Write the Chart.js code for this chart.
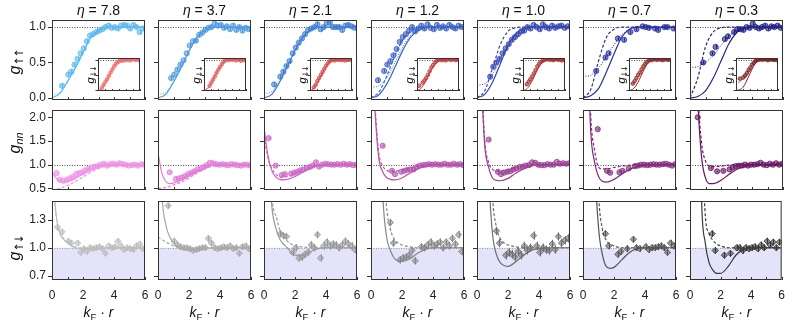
<!DOCTYPE html>
<html>
<head>
<meta charset="utf-8">
<script src="https://cdn.jsdelivr.net/npm/chart.js@4.4.1/dist/chart.umd.min.js"></script>
<style>
  html, body { margin: 0; padding: 0; background: #fff; }
  #fig { position: relative; width: 793px; height: 322px; overflow: hidden; font-family: 'Liberation Sans', Arial, sans-serif; color: #111; }
  #fig canvas { position: absolute; left: 0; top: 0; }
  .lbl { position: absolute; white-space: nowrap; line-height: 1; transform: translate(-50%, -50%); }
  .rot { transform: translate(-50%, -50%) rotate(-90deg); }
  .lbl sub { font-size: 68%; vertical-align: baseline; position: relative; top: 0.3em; }
  .lbl sub.arr { font-family: 'DejaVu Sans', sans-serif; font-size: 72%; letter-spacing: -0.15em; }
</style>
</head>
<body>
<div id="fig"></div>
<script>
// ---- labels / ticks ----
const etaValues = ['7.8', '3.7', '2.1', '1.2', '1.0', '0.7', '0.3'];
const xTickLabels = [0, 2, 4, 6];
const xTickMarks = [0, 1, 2, 3, 4, 5, 6];
const upTicks = [0, 0.5, 1.0];
const nnTicks = [0.5, 1.0, 1.5, 2.0];
const udTicks = [0.7, 1.0, 1.3];
const insetTicks = [0, 0.5, 1.0];

// ---- colours per column ----
const upColors = ['#5cb9ee', '#4d9be0', '#3f7dd3', '#3a62c6', '#3346b4', '#2a30a3', '#22228a'];
const downColors = ['#f46a6a', '#e35a5a', '#d24a4a', '#c23c3c', '#ae3232', '#962a2a', '#7e2020'];
const nnColors = ['#f08ee8', '#e27ad8', '#cd62c4', '#b64fae', '#9c3c96', '#82297c', '#681565'];
const udColors = ['#bdbdbd', '#a8a8a8', '#999999', '#878787', '#6f6f6f', '#555555', '#3a3a3a'];

// ---- g up-up (top row) ----
const upX = [0.45, 0.65, 0.85, 1.05, 1.25, 1.45, 1.65, 1.85, 2.05, 2.25, 2.45, 2.65, 2.85, 3.05, 3.25, 3.45, 3.65, 3.85, 4.05, 4.25, 4.45, 4.65, 4.85, 5.05, 5.25, 5.45, 5.65, 5.85];
const upY = [
  [null, 0.17, null, 0.33, 0.37, 0.47, 0.55, 0.63, 0.70, 0.80, 0.88, 0.90, 0.93, 0.95, 0.97, 1.00, 1.02, 0.99, 1.00, 0.98, 1.02, 1.03, 1.02, 0.98, 1.03, 1.00, 0.93, 0.98],
  [null, null, 0.28, 0.33, 0.40, 0.47, 0.53, 0.63, 0.74, 0.80, 0.81, 0.89, 0.92, 0.96, 0.99, 1.00, 1.05, 1.02, 1.03, 0.99, 1.01, 0.97, 1.02, 0.96, 1.00, 0.95, 0.99, 0.97],
  [null, 0.19, null, 0.30, 0.37, 0.45, 0.52, 0.63, 0.71, 0.78, 0.84, 0.90, 0.96, 0.98, 1.00, 1.04, 0.97, 1.00, 1.06, 1.06, 1.00, 1.00, 1.00, 0.96, 1.02, 1.03, 1.01, 0.99],
  [0.25, null, 0.38, 0.47, 0.52, 0.60, 0.69, 0.79, 0.86, 0.90, 0.95, 1.00, 0.94, 0.98, 1.02, 0.98, 1.04, 0.99, 0.97, 1.03, 0.99, 1.01, 0.98, 1.03, 1.00, 0.98, 1.02, 1.00],
  [null, null, 0.30, 0.44, 0.50, 0.55, 0.63, 0.70, 0.76, 0.82, 0.86, 0.90, 0.94, 0.95, 1.00, 0.98, 1.03, 1.00, 0.97, 1.04, 1.00, 0.98, 1.02, 0.99, 1.01, 1.02, 0.99, 1.01],
  [null, null, 0.38, null, null, 0.57, 0.63, null, null, 0.84, null, 0.82, null, 0.93, null, 0.97, null, 1.01, 1.00, 0.99, null, 0.98, 0.96, null, 1.00, 1.00, null, 0.98],
  [null, null, 0.50, null, null, 0.63, 0.72, null, null, 0.83, 0.87, null, 0.93, 0.97, 0.97, 0.96, 1.00, 0.99, 1.05, 1.00, 0.98, 1.00, 1.02, 0.98, 1.01, 1.00, 1.02, 0.99]
];
const upErr = [0.03, 0.03, 0.03, 0.025, 0.025, 0.025, 0.025];
const upCurveX = [0, 0.5, 1, 1.5, 2, 2.5, 3, 3.5, 4, 6];
const upSolid = [
  [0, 0.06, 0.23, 0.42, 0.64, 0.85, 0.96, 1, 1, 1],
  [0, 0.05, 0.22, 0.43, 0.66, 0.85, 0.96, 1, 1, 1],
  [0, 0.05, 0.22, 0.44, 0.67, 0.86, 0.96, 1, 1, 1],
  [0, 0.04, 0.19, 0.41, 0.65, 0.84, 0.95, 0.99, 1, 1],
  [0, 0.05, 0.22, 0.48, 0.74, 0.90, 0.98, 1, 1, 1],
  [0, 0.03, 0.13, 0.36, 0.62, 0.86, 0.97, 1, 1, 1],
  [0, 0.02, 0.10, 0.28, 0.52, 0.76, 0.92, 0.99, 1, 1]
];
const upDashed = [
  null, null, null,
  [0, 0.08, 0.30, 0.57, 0.80, 0.93, 0.99, 1, 1, 1],
  [0, 0.10, 0.42, 0.75, 0.94, 0.99, 1, 1, 1, 1],
  [0, 0.12, 0.52, 0.85, 0.97, 1, 1, 1, 1, 1],
  [0, 0.28, 0.72, 0.93, 0.99, 1, 1, 1, 1, 1]
];
const upDotted = [
  [0.04, 0.08, 0.24, 0.43, 0.64, 0.85, 0.96, 1, 1, 1],
  [0.05, 0.08, 0.23, 0.44, 0.66, 0.85, 0.96, 1, 1, 1],
  [0.06, 0.09, 0.24, 0.45, 0.67, 0.86, 0.96, 1, 1, 1],
  [0.15, 0.17, 0.28, 0.48, 0.70, 0.87, 0.97, 1, 1, 1],
  [0.18, 0.20, 0.33, 0.55, 0.76, 0.90, 0.97, 1, 1, 1],
  [0.30, 0.32, 0.42, 0.58, 0.75, 0.89, 0.97, 1, 1, 1],
  [0.43, 0.44, 0.50, 0.60, 0.74, 0.87, 0.95, 0.99, 1, 1]
];

// ---- g down-down (insets) ----
const insetX = [0.3, 0.55, 0.8, 1.05, 1.3, 1.55, 1.8, 2.05, 2.3, 2.55, 2.8, 3.05, 3.3, 3.55, 3.8, 4.05, 4.3, 4.55, 4.8, 5.05, 5.3, 5.55, 5.8];
const downY = [
  [null, 0.08, 0.18, 0.28, 0.36, 0.47, 0.58, 0.68, 0.78, 0.86, 0.91, 0.95, 0.98, 0.96, 1.00, 0.98, 1.01, 0.97, 1.00, 1.02, 0.99, 1.01, 0.98],
  [null, null, 0.15, 0.25, 0.35, 0.45, 0.57, 0.67, 0.76, 0.85, 0.93, 0.97, 1.02, 0.98, 1.04, 0.99, 1.03, 0.97, 1.01, 1.00, 0.96, 1.00, 0.98],
  [null, 0.10, 0.18, 0.30, 0.40, 0.50, 0.60, 0.70, 0.80, 0.88, 0.94, 0.98, 1.00, 0.97, 1.02, 0.99, 1.00, 0.98, 1.01, 0.97, 1.00, 0.99, 1.00],
  [0.15, null, 0.25, 0.32, 0.40, 0.50, 0.62, 0.74, 0.82, 0.90, 0.95, 0.99, 1.00, 0.98, 1.01, 0.97, 1.00, 1.02, 0.99, 1.00, 1.01, 0.98, 1.00],
  [null, 0.20, 0.28, 0.36, 0.45, 0.55, 0.66, 0.78, 0.86, 0.92, 0.96, 0.99, 1.00, 1.02, 0.99, 1.01, 0.98, 1.00, 1.02, 0.99, 1.00, 0.97, 0.99],
  [null, 0.22, 0.30, 0.40, 0.50, 0.58, 0.68, 0.78, 0.86, 0.92, 0.96, 1.00, 0.98, 1.02, 1.00, 0.99, 1.01, 1.00, 0.98, 1.00, 1.01, 0.99, 1.00],
  [null, 0.38, null, 0.42, 0.48, 0.56, 0.66, 0.74, 0.84, 0.90, 0.96, 0.98, 1.00, 1.01, 0.99, 1.02, 1.00, 0.98, 1.00, 1.01, 0.99, 1.00, 0.98]
];
const insetCurveX = [0, 0.5, 1, 1.5, 2, 2.5, 3, 3.5, 4, 6];
const downSolid = [
  [0, 0.06, 0.24, 0.45, 0.66, 0.84, 0.95, 1, 1, 1],
  [0, 0.05, 0.22, 0.44, 0.66, 0.84, 0.95, 1, 1, 1],
  [0, 0.05, 0.22, 0.44, 0.66, 0.85, 0.96, 1, 1, 1],
  [0, 0.05, 0.20, 0.42, 0.65, 0.84, 0.95, 1, 1, 1],
  [0, 0.04, 0.18, 0.40, 0.64, 0.84, 0.95, 1, 1, 1],
  [0, 0.03, 0.15, 0.36, 0.60, 0.82, 0.95, 1, 1, 1],
  [0, 0.02, 0.10, 0.30, 0.55, 0.78, 0.93, 0.99, 1, 1]
];
const downDotted = [
  [0.04, 0.08, 0.25, 0.46, 0.66, 0.84, 0.95, 1, 1, 1],
  [0.05, 0.08, 0.24, 0.45, 0.66, 0.84, 0.95, 1, 1, 1],
  [0.05, 0.08, 0.24, 0.45, 0.66, 0.85, 0.96, 1, 1, 1],
  [0.12, 0.14, 0.26, 0.46, 0.67, 0.85, 0.96, 1, 1, 1],
  [0.15, 0.17, 0.29, 0.48, 0.68, 0.86, 0.96, 1, 1, 1],
  [0.20, 0.22, 0.32, 0.50, 0.69, 0.86, 0.96, 1, 1, 1],
  [0.25, 0.27, 0.36, 0.52, 0.70, 0.86, 0.96, 1, 1, 1]
];

// ---- g_nn (middle row) ----
const nnX = [0.3, 0.5, 0.75, 0.95, 1.15, 1.35, 1.55, 1.75, 1.95, 2.15, 2.35, 2.55, 2.75, 2.95, 3.15, 3.35, 3.55, 3.75, 3.95, 4.15, 4.35, 4.55, 4.75, 4.95, 5.15, 5.35, 5.55, 5.75, 5.95];
const nnY = [
  [0.82, 0.68, 0.66, 0.68, 0.71, 0.74, 0.80, 0.82, 0.84, 0.88, 0.91, 0.94, 0.96, 0.97, 1.00, 1.02, 0.98, 1.01, 1.02, 1.00, 1.03, 1.01, 1.00, 0.98, 0.99, 1.00, 0.98, 1.01, 1.00],
  [null, null, 0.84, null, 0.70, 0.71, 0.73, 0.76, 0.80, 0.83, 0.86, 0.90, 0.92, 0.95, 0.99, 1.04, 1.03, 1.01, 1.00, 1.01, 1.00, 0.99, 1.01, 1.00, 0.99, 0.98, 1.00, 1.00, 0.98],
  [1.56, null, 0.98, null, 0.78, 0.80, null, 0.81, 0.83, 0.85, 0.88, 0.90, 0.93, 0.95, 0.98, 1.05, 0.96, 1.00, 1.02, 1.01, 1.00, 1.00, 1.01, 1.00, 1.02, 1.00, 1.01, 0.99, 1.00],
  [null, null, 1.40, null, null, 0.87, 0.80, null, 0.85, 0.87, 0.89, 0.90, 0.90, 0.95, 0.98, 0.99, 1.00, 1.01, 1.00, 1.01, 1.00, 1.00, 1.02, 1.00, 1.00, 1.02, 1.00, 1.01, 0.99],
  [null, null, 1.53, null, null, 0.85, 0.80, 0.83, 0.85, 0.86, 0.90, 0.92, 0.95, 0.96, 0.98, 0.99, 1.05, 1.04, 1.00, 0.99, 0.99, 1.01, 1.00, 1.00, 1.06, 1.02, 1.03, 1.02, 1.03],
  [null, null, null, 1.75, null, null, 0.87, 0.83, null, null, 0.84, 0.87, null, 0.92, null, 0.97, 0.98, 1.00, 1.00, 0.99, 1.00, 1.01, 1.00, 1.00, 1.01, 1.02, 1.00, 0.98, 1.01],
  [null, 2.00, null, null, null, 0.93, null, 0.86, null, 0.87, null, 0.90, 0.94, 0.97, 0.98, 0.98, 1.00, 0.98, 1.00, 1.00, 1.01, 1.04, 1.00, 0.99, 1.02, 1.00, 1.03, 1.00, 1.02]
];
const nnErr = [0.02, 0.02, 0.02, 0.015, 0.015, 0.015, 0.015];
const nnCurveX = [0, 0.25, 0.5, 0.75, 1, 1.25, 1.5, 2, 2.5, 3, 3.5, 4, 5, 6];
const nnSolid = [
  [0.85, 0.72, 0.65, 0.63, 0.64, 0.67, 0.71, 0.80, 0.88, 0.95, 0.99, 1, 1, 1],
  [1.25, 0.82, 0.65, 0.60, 0.61, 0.64, 0.68, 0.77, 0.86, 0.94, 0.99, 1, 1, 1],
  [1.80, 1.20, 0.88, 0.74, 0.69, 0.68, 0.69, 0.75, 0.84, 0.93, 0.98, 1, 1, 1],
  [4.0, 2.2, 1.15, 0.85, 0.73, 0.69, 0.68, 0.72, 0.82, 0.91, 0.97, 1, 1, 1],
  [5.0, 3.0, 1.40, 0.95, 0.72, 0.67, 0.66, 0.71, 0.82, 0.91, 0.97, 0.99, 1, 1],
  [6.0, 4.0, 1.70, 1.05, 0.75, 0.65, 0.63, 0.69, 0.80, 0.90, 0.96, 0.99, 1, 1],
  [7.0, 5.0, 2.40, 1.15, 0.72, 0.60, 0.60, 0.67, 0.79, 0.90, 0.96, 0.99, 1, 1]
];
const nnDashed = [
  [0.47, 0.48, 0.50, 0.53, 0.56, 0.60, 0.64, 0.74, 0.84, 0.92, 0.97, 0.99, 1, 1],
  [0.50, 0.50, 0.52, 0.54, 0.57, 0.60, 0.63, 0.72, 0.82, 0.91, 0.97, 0.99, 1, 1],
  [1.60, 1.15, 0.92, 0.80, 0.75, 0.74, 0.75, 0.80, 0.87, 0.94, 0.98, 1, 1, 1],
  [4.0, 2.3, 1.25, 0.98, 0.88, 0.86, 0.86, 0.89, 0.93, 0.97, 0.99, 1, 1, 1],
  [5.0, 3.2, 1.50, 1.05, 0.90, 0.87, 0.87, 0.90, 0.94, 0.97, 0.99, 1, 1, 1],
  [6.0, 4.2, 2.00, 1.30, 0.95, 0.91, 0.91, 0.94, 0.97, 0.99, 1, 1, 1, 1],
  [7.0, 5.2, 2.60, 1.45, 1.08, 0.97, 0.96, 0.97, 0.99, 1, 1, 1, 1, 1]
];

// ---- g up-down (bottom row) ----
const udX = [0.35, 0.65, 0.85, 1.05, 1.25, 1.45, 1.65, 1.85, 2.05, 2.25, 2.45, 2.65, 2.85, 3.05, 3.25, 3.45, 3.65, 3.85, 4.05, 4.25, 4.45, 4.65, 4.85, 5.05, 5.25, 5.45, 5.65, 5.85];
const udY = [
  [1.22, 1.17, null, 1.07, 1.05, null, 1.05, 0.95, 0.99, 0.96, 1.00, 0.99, 1.00, 1.01, 0.99, 0.94, 1.02, 1.00, 1.01, 1.07, 1.02, 0.98, 1.00, 0.99, 0.98, 1.02, 1.04, 0.99],
  [null, 1.45, null, 1.07, 1.03, 1.01, 1.00, 1.00, 0.99, 0.97, 0.98, 0.99, 1.00, 1.00, 1.10, 1.05, 1.00, 0.99, 1.00, 1.01, 1.00, 1.02, 0.99, 1.00, 0.94, 1.01, 1.02, 0.99],
  [null, null, null, 1.15, 1.13, 1.12, null, 0.95, 1.00, 0.89, 0.90, 0.93, 0.95, 1.03, 1.00, 1.14, 0.89, 1.02, 1.06, 1.02, 1.04, 1.03, 1.00, 1.03, 1.07, 1.04, 1.02, 0.98],
  [null, null, null, null, 1.27, 1.05, null, 0.87, 0.89, 0.90, 0.92, 0.97, 0.86, null, 1.01, 1.00, 1.03, 1.06, 1.02, 1.04, 1.06, 1.00, 1.06, 1.02, 1.10, 1.04, 1.14, 0.96],
  [null, null, null, null, 1.18, 1.05, null, 0.92, 0.95, 0.93, 0.90, 0.96, 0.92, 1.02, 0.97, 1.00, 1.13, 1.02, 0.95, 1.00, 0.98, 0.97, 1.04, 0.98, 1.12, 1.05, 1.08, 1.10],
  [null, null, null, null, null, 1.15, 1.02, null, null, 0.93, 0.96, null, 0.99, null, 1.09, 1.00, 0.99, null, 1.01, 0.98, 1.00, 1.00, 1.01, 1.02, 1.00, 0.95, 1.05, 1.02],
  [null, null, null, null, null, 1.15, 0.97, null, null, 0.92, null, 0.94, null, 1.00, 1.00, 0.97, 1.00, 0.99, 1.00, 1.01, 0.99, 1.03, 1.00, 1.07, 1.03, 1.06, 1.00, 1.06]
];
const udErr = [0.03, 0.03, 0.04, 0.04, 0.045, 0.035, 0.035];
const udCurveX = [0, 0.25, 0.5, 0.75, 1, 1.25, 1.5, 1.75, 2, 2.5, 3, 3.5, 4, 5, 6];
const udSolid = [
  [2.0, 1.38, 1.16, 1.09, 1.05, 1.02, 1.00, 0.99, 0.985, 0.985, 0.99, 1, 1, 1, 1],
  [3.0, 1.60, 1.25, 1.12, 1.05, 1.01, 0.99, 0.98, 0.975, 0.98, 0.99, 1, 1, 1, 1],
  [6.0, 2.20, 1.45, 1.22, 1.10, 1.04, 1.00, 0.95, 0.92, 0.92, 0.96, 0.99, 1, 1, 1],
  [8, 5, 3, 1.60, 1.12, 0.97, 0.89, 0.86, 0.855, 0.88, 0.94, 0.98, 1, 1, 1],
  [8, 5, 3, 1.80, 1.15, 0.93, 0.84, 0.81, 0.80, 0.85, 0.92, 0.97, 0.99, 1, 1],
  [8, 6, 4, 2.00, 1.22, 0.93, 0.80, 0.78, 0.79, 0.87, 0.95, 0.99, 1, 1, 1],
  [8, 6, 4, 1.55, 1.05, 0.84, 0.76, 0.725, 0.725, 0.80, 0.92, 0.98, 1, 1, 1]
];
const udDashed = [
  [1.8, 1.36, 1.17, 1.10, 1.06, 1.03, 1.01, 1.00, 1, 1, 1, 1, 1, 1, 1],
  [1.11, 1.09, 1.06, 1.04, 1.02, 1.01, 1.00, 1.00, 1, 1, 1, 1, 1, 1, 1],
  [8, 4, 1.60, 1.35, 1.20, 1.12, 1.07, 1.04, 1.02, 1.01, 1, 1, 1, 1, 1],
  [8, 6, 4, 2.20, 1.45, 1.20, 1.09, 1.05, 1.03, 1.01, 1, 1, 1, 1, 1],
  [8, 6, 5, 2.60, 1.55, 1.22, 1.10, 1.05, 1.03, 1.01, 1, 1, 1, 1, 1],
  [8, 7, 5, 3.00, 1.60, 1.20, 1.08, 1.04, 1.02, 1.00, 1, 1, 1, 1, 1],
  [8, 7, 5, 2.50, 1.35, 1.15, 1.08, 1.04, 1.02, 1.00, 1, 1, 1, 1, 1]
];

// ---- layout ----
const W = 793, H = 322;
const FONT = "'Liberation Sans', Arial, sans-serif";
const colLeft = [52, 158, 264, 371, 477, 583, 690];
const panelW = 93;
const yAxisW = 40, xAxisH = 24;
const shadeColor = '#e3e3fa';
const fig = document.getElementById('fig');

function rgba(hex, a) {
  const n = parseInt(hex.slice(1), 16);
  return `rgba(${(n >> 16) & 255}, ${(n >> 8) & 255}, ${n & 255}, ${a})`;
}

function pts(xs, ys) {
  return xs.map((x, i) => ({ x: x, y: ys[i] })).filter(p => p.y !== null);
}

function markers(xs, ys, color, style, r) {
  return {
    type: 'scatter', data: pts(xs, ys), pointStyle: style, pointRadius: r,
    backgroundColor: rgba(color, 0.6), borderColor: color, borderWidth: 0.8, order: 0
  };
}

function curve(xs, ys, color, dash, width) {
  return {
    type: 'line', data: pts(xs, ys), borderColor: color, borderWidth: width,
    borderDash: dash, pointRadius: 0, fill: false, cubicInterpolationMode: 'monotone', order: 1
  };
}

// frame, ticks, reference line, shading and error bars
const decor = {
  id: 'decor',
  beforeDatasetsDraw(chart, args, o) {
    const { ctx, chartArea: a, scales: { x, y } } = chart;
    ctx.save();
    ctx.beginPath();
    ctx.rect(a.left, a.top, a.right - a.left, a.bottom - a.top);
    ctx.clip();
    if (o.white) {
      ctx.fillStyle = '#fff';
      ctx.fillRect(a.left, a.top, a.right - a.left, a.bottom - a.top);
    }
    const y1 = y.getPixelForValue(1);
    if (o.shade) {
      ctx.fillStyle = shadeColor;
      ctx.fillRect(a.left, y1, a.right - a.left, a.bottom - y1);
    }
    const yr = Math.round(y1) + 0.5;
    ctx.strokeStyle = o.shade ? '#8a8a8a' : '#222';
    ctx.lineWidth = 0.8;
    ctx.setLineDash([1, 1.5]);
    ctx.beginPath();
    ctx.moveTo(a.left, yr);
    ctx.lineTo(a.right, yr);
    ctx.stroke();
    ctx.setLineDash([]);
    if (o.err) {
      const ds = chart.data.datasets[0];
      ctx.strokeStyle = ds.borderColor;
      ctx.lineWidth = 1;
      ds.data.forEach(p => {
        const px = Math.round(x.getPixelForValue(p.x)) + 0.5;
        ctx.beginPath();
        ctx.moveTo(px, y.getPixelForValue(p.y - o.err));
        ctx.lineTo(px, y.getPixelForValue(p.y + o.err));
        ctx.stroke();
      });
    }
    ctx.restore();
  },
  afterDraw(chart, args, o) {
    const { ctx, chartArea: a, scales: { x, y } } = chart;
    ctx.save();
    ctx.strokeStyle = '#333';
    ctx.lineWidth = 1;
    ctx.strokeRect(a.left + 0.5, a.top + 0.5, a.right - a.left - 1, a.bottom - a.top - 1);
    ctx.beginPath();
    o.yTicks.forEach(v => {
      const py = Math.round(y.getPixelForValue(v)) + 0.5;
      ctx.moveTo(a.left, py);
      ctx.lineTo(a.left - o.yLen, py);
    });
    xTickMarks.forEach(v => {
      const px = Math.round(x.getPixelForValue(v)) + 0.5;
      ctx.moveTo(px, a.bottom);
      ctx.lineTo(px, a.bottom - o.xLen);
    });
    ctx.stroke();
    ctx.restore();
  }
};
Chart.register(decor);

function panel(p) {
  const canvas = document.createElement('canvas');
  canvas.width = W;
  canvas.height = H;
  fig.appendChild(canvas);
  new Chart(canvas, {
    type: 'scatter',
    data: { datasets: p.datasets },
    options: {
      responsive: false,
      animation: false,
      events: [],
      layout: { padding: { left: p.left - yAxisW, top: p.top, right: W - p.left - p.width, bottom: H - p.top - p.height - xAxisH } },
      plugins: {
        legend: { display: false },
        tooltip: { enabled: false },
        decor: { yTicks: p.yTicks, err: p.err, shade: p.shade, white: p.white, yLen: p.yLen, xLen: p.xLen }
      },
      scales: {
        x: {
          type: 'linear', min: 0, max: 6,
          afterFit: s => { s.height = xAxisH; },
          afterBuildTicks: s => { s.ticks = xTickLabels.map(v => ({ value: v })); },
          grid: { display: false, drawTicks: false },
          border: { display: false },
          ticks: { display: !!p.showX, padding: 8, autoSkip: false, maxRotation: 0, color: '#222', font: { family: FONT, size: 12 } }
        },
        y: {
          type: 'linear', min: p.yMin, max: p.yMax,
          afterFit: s => { s.width = yAxisW; },
          afterBuildTicks: s => { s.ticks = p.yTicks.map(v => ({ value: v })); },
          grid: { display: false, drawTicks: false },
          border: { display: false },
          ticks: { display: !!p.showY, padding: 6, autoSkip: false, color: '#222', font: { family: FONT, size: 12 },
                   callback: v => v.toFixed(1) }
        }
      }
    }
  });
}

function addLabel(html, x, y, size, rotate) {
  const d = document.createElement('div');
  d.className = rotate ? 'lbl rot' : 'lbl';
  d.style.left = x + 'px';
  d.style.top = y + 'px';
  d.style.fontSize = size + 'px';
  d.innerHTML = html;
  fig.appendChild(d);
}

for (let c = 0; c < 7; c++) {
  const L = colLeft[c];

  // top row: g up-up
  const upSets = [markers(upX, upY[c], upColors[c], 'circle', 2.6),
                  curve(upCurveX, upSolid[c], upColors[c], [], 1.2),
                  curve(upCurveX, upDotted[c], upColors[c], [1, 1.5], 1)];
  if (upDashed[c]) upSets.push(curve(upCurveX, upDashed[c], upColors[c], [3, 2], 1.2));
  panel({ left: L, top: 20, width: panelW, height: 80, yMin: -0.03, yMax: 1.1, yTicks: upTicks,
          showY: c === 0, err: upErr[c], datasets: upSets, yLen: 4, xLen: 3 });

  // middle row: g_nn
  panel({ left: L, top: 110, width: panelW, height: 80, yMin: 0.465, yMax: 2.155, yTicks: nnTicks,
          showY: c === 0, err: nnErr[c], yLen: 4, xLen: 3,
          datasets: [markers(nnX, nnY[c], nnColors[c], 'circle', 2.6),
                     curve(nnCurveX, nnSolid[c], nnColors[c], [], 1.2),
                     curve(nnCurveX, nnDashed[c], nnColors[c], [3, 2], 1.2)] });

  // bottom row: g up-down
  panel({ left: L, top: 201, width: panelW, height: 79, yMin: 0.655, yMax: 1.5, yTicks: udTicks,
          showY: c === 0, showX: true, shade: true, err: udErr[c], yLen: 4, xLen: 3,
          datasets: [markers(udX, udY[c], udColors[c], 'rectRot', 3.2),
                     curve(udCurveX, udSolid[c], udColors[c], [], 1.2),
                     curve(udCurveX, udDashed[c], udColors[c], [3, 2], 1.2)] });
}

// insets on top of the top row
for (let c = 0; c < 7; c++) {
  panel({ left: colLeft[c] + 46, top: 58, width: 42, height: 33, yMin: -0.02, yMax: 1.05, yTicks: insetTicks,
          white: true, yLen: 2.5, xLen: 2,
          datasets: [markers(insetX, downY[c], downColors[c], 'circle', 1.8),
                     curve(insetCurveX, downSolid[c], downColors[c], [], 1),
                     curve(insetCurveX, downDotted[c], downColors[c], [1, 1.5], 1)] });
}

// text
for (let c = 0; c < 7; c++) {
  const cx = colLeft[c] + panelW / 2;
  addLabel('<i>η</i> = ' + etaValues[c], cx, 10, 14);
  addLabel('<i>k</i><sub>F</sub> · <i>r</i>', cx, 312, 14);
  addLabel('<i>g</i><sub class="arr">↓↓</sub>', colLeft[c] + 38, 75, 11, true);
}
addLabel('<i>g</i><sub class="arr">↑↑</sub>', 15, 62, 16, true);
addLabel('<i>g</i><sub><i>nn</i></sub>', 15, 143, 16, true);
addLabel('<i>g</i><sub class="arr">↑↓</sub>', 15, 248, 16, true);
</script>
</body>
</html>
